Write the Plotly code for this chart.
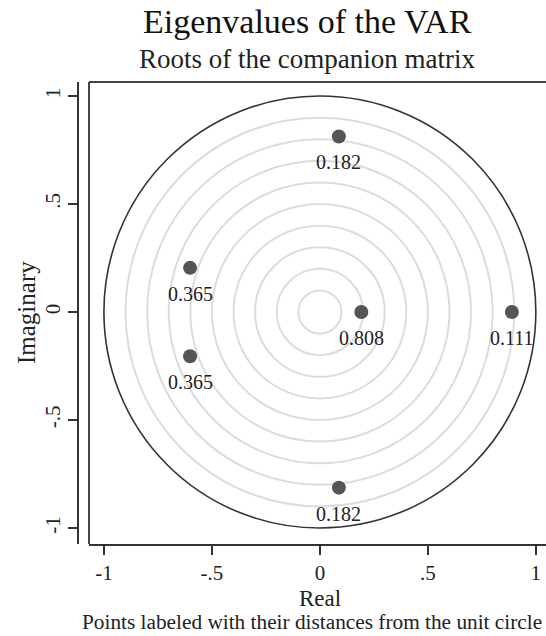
import plotly.graph_objects as go

# ---- data ----
real_parts = [0.088, 0.088, -0.601, -0.601, 0.889, 0.192]
imag_parts = [0.813, -0.813, 0.2045, -0.2045, 0.0, 0.0]
distance_labels = ["0.182", "0.182", "0.365", "0.365", "0.111", "0.808"]
grid_radii = [0.1, 0.2, 0.3, 0.4, 0.5, 0.6, 0.7, 0.8, 0.9]
unit_radius = 1.0
tick_vals = [-1, -0.5, 0, 0.5, 1]
tick_text = ["-1", "-.5", "0", ".5", "1"]

FONT = "Liberation Serif"
W, H = 546, 636
L, R, T, B = 78, 0, 82, 92
plot_w = W - L - R
plot_h = H - T - B
x_dom0 = 11 / plot_w

fig = go.Figure()

shapes = []
for r in grid_radii:
    shapes.append(dict(type="circle", xref="x", yref="y", x0=-r, y0=-r, x1=r, y1=r,
                       line=dict(color="#dcdcdc", width=2), layer="below"))
shapes.append(dict(type="circle", xref="x", yref="y", x0=-unit_radius, y0=-unit_radius,
                   x1=unit_radius, y1=unit_radius, line=dict(color="#333333", width=1.6), layer="below"))
# plot box (left and top borders)
shapes.append(dict(type="line", xref="paper", yref="paper", x0=x_dom0, x1=x_dom0, y0=0, y1=1,
                   line=dict(color="#444444", width=2)))
shapes.append(dict(type="line", xref="paper", yref="paper", x0=x_dom0, x1=1.02, y0=1, y1=1,
                   line=dict(color="#444444", width=2)))

fig.add_trace(go.Scatter(
    x=real_parts, y=imag_parts, mode="markers",
    marker=dict(size=14, color="#555555"),
    cliponaxis=False, showlegend=False, text=distance_labels, hoverinfo="x+y+text",
))

annotations = []
for xr, yi, lab in zip(real_parts, imag_parts, distance_labels):
    annotations.append(dict(text=lab, x=xr, y=yi, xref="x", yref="y", yshift=-26,
                            xanchor="center", yanchor="middle", showarrow=False,
                            font=dict(family=FONT, size=20, color="#222222")))

annotations += [
    dict(text="Eigenvalues of the VAR", xref="paper", yref="paper",
         x=(307 - L) / plot_w, y=1 + (82 - 22) / plot_h, xanchor="center", yanchor="middle",
         showarrow=False, font=dict(family=FONT, size=34, color="#111111")),
    dict(text="Roots of the companion matrix", xref="paper", yref="paper",
         x=(307 - L) / plot_w, y=1 + (82 - 59) / plot_h, xanchor="center", yanchor="middle",
         showarrow=False, font=dict(family=FONT, size=27, color="#222222")),
    dict(text="Real", xref="paper", yref="paper",
         x=(320 - L) / plot_w, y=-(598 - 544) / plot_h, xanchor="center", yanchor="middle",
         showarrow=False, font=dict(family=FONT, size=23, color="#222222")),
    dict(text="Imaginary", xref="paper", yref="paper", textangle=-90,
         x=(26 - L) / plot_w, y=(544 - 313) / plot_h, xanchor="center", yanchor="middle",
         showarrow=False, font=dict(family=FONT, size=25, color="#222222")),
    dict(text="Points labeled with their distances from the unit circle", xref="paper", yref="paper",
         x=(312 - L) / plot_w, y=-(622 - 544) / plot_h, xanchor="center", yanchor="middle",
         showarrow=False, font=dict(family=FONT, size=21.3, color="#222222")),
]

fig.update_layout(
    width=W, height=H,
    margin=dict(l=L, r=R, t=T, b=B, autoexpand=False),
    paper_bgcolor="white", plot_bgcolor="white",
    font=dict(family=FONT, color="#222222"),
    shapes=shapes,
    annotations=annotations,
    xaxis=dict(domain=[x_dom0, 1], range=[-1.069, 1.047], tickvals=tick_vals, ticktext=tick_text,
               showgrid=False, zeroline=False, showline=True, linecolor="#333333", linewidth=2,
               ticks="outside", ticklen=9, tickwidth=2, tickcolor="#333333", automargin=False,
               tickfont=dict(family=FONT, size=21, color="#222222")),
    yaxis=dict(anchor="free", position=0, range=[-1.074, 1.065], tickvals=tick_vals, ticktext=tick_text,
               showgrid=False, zeroline=False, showline=True, linecolor="#333333", linewidth=2,
               ticks="outside", ticklen=9, tickwidth=2, tickcolor="#333333", tickangle=-90,
               automargin=False, tickfont=dict(family=FONT, size=21, color="#222222")),
)

fig.write_html("out.html", config={"displayModeBar": False},
               post_script="document.body.style.margin='0';document.body.style.overflow='hidden';")
